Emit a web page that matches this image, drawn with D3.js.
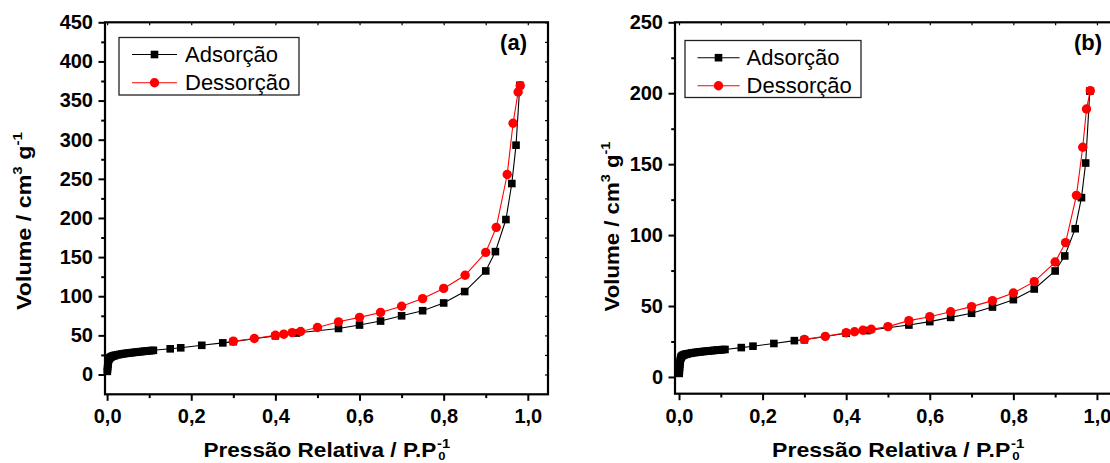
<!DOCTYPE html>
<html><head><meta charset="utf-8">
<script src="https://cdn.jsdelivr.net/npm/d3@7"></script>
<style>
body{margin:0;background:#fff;}
svg{display:block;}
text{font-family:"Liberation Sans",Arial,Helvetica,sans-serif;}
</style></head><body>
<svg id="chart" width="1110" height="463"></svg>
<script>
// ---------- DATA ----------
const seriesNames = ["Adsorção", "Dessorção"];
const panelLabels = ["(a)", "(b)"];
const xTickValues = [0, 0.2, 0.4, 0.6, 0.8, 1.0];
const xTickLabels = ["0,0", "0,2", "0,4", "0,6", "0,8", "1,0"];
const yTickValuesA = [0, 50, 100, 150, 200, 250, 300, 350, 400, 450];
const yTickValuesB = [0, 50, 100, 150, 200, 250];

// panel (a) adsorption
const adsA_x = [0.0005,0.001,0.0015,0.002,0.0025,0.003,0.004,0.005,0.006,0.008,0.01,0.0125,0.015,0.0175,0.02,0.025,0.03,0.035,0.04,0.045,0.05,0.055,0.06,0.065,0.07,0.075,0.08,0.085,0.09,0.095,0.1,0.105,0.11,
  0.15,0.175,0.225,0.275,0.30,0.40,0.45,0.55,0.60,0.65,0.70,0.75,0.80,0.85,0.90,0.923,0.948,0.962,0.972,0.981];
const adsA_y = [4,7,10,13,15.5,17.5,19.3,20.4,21.1,22.0,22.7,23.3,23.8,24.2,24.6,25.2,25.7,26.2,26.6,27.0,27.4,27.7,28.0,28.3,28.6,28.9,29.2,29.5,29.8,30.0,30.3,30.6,30.9,
  32.8,34.1,37.3,40.4,42.0,49.4,53.0,58.8,63.2,68.3,75.0,81.5,91.4,106,132.3,157,198,244,293,369.5];
// panel (a) desorption
const desA_x = [0.982,0.977,0.965,0.951,0.925,0.900,0.851,0.80,0.75,0.70,0.65,0.60,0.55,0.50,0.46,0.44,0.42,0.40,0.35,0.30];
const desA_y = [369,361,321,255.5,188,156,126.8,110,97,87.2,79.3,73,67.3,60,55,53.5,51.5,50.2,46,42.5];

// panel (b) adsorption
const adsB_x = [0.0005,0.001,0.0015,0.002,0.0025,0.003,0.004,0.005,0.006,0.008,0.01,0.0125,0.015,0.0175,0.02,0.025,0.03,0.035,0.04,0.045,0.05,0.055,0.06,0.065,0.07,0.075,0.08,0.085,0.09,0.095,0.1,0.105,0.11,
  0.149,0.177,0.227,0.276,0.30,0.40,0.45,0.55,0.60,0.65,0.70,0.75,0.80,0.85,0.90,0.923,0.948,0.963,0.973,0.983];
const adsB_y = [2.5,4.5,6.8,8.8,10.4,11.6,13.0,13.9,14.5,15.0,15.4,15.7,15.9,16.1,16.3,16.6,16.9,17.1,17.3,17.5,17.7,17.85,18.0,18.15,18.3,18.45,18.6,18.75,18.9,19.0,19.15,19.3,19.4,
  20.7,21.7,23.6,25.6,26.2,30.8,32.7,36.6,39.0,42.0,44.9,49.3,54.5,62.0,74.7,85.3,104.5,126.4,150.8,201.5];
// panel (b) desorption
const desB_x = [0.984,0.975,0.966,0.951,0.925,0.90,0.85,0.80,0.75,0.70,0.65,0.60,0.55,0.50,0.46,0.44,0.42,0.40,0.35,0.30];
const desB_y = [201.8,188.9,161.9,128,94.7,81,67.2,59.2,53.8,49.6,46,42.5,39.7,35.5,33.6,32.9,31.9,31.2,28.6,26.5];

// ---------- LAYOUT ----------
const panels = [
  { label: panelLabels[0], ads: [adsA_x, adsA_y], des: [desA_x, desA_y], yTicks: yTickValuesA,
    left: 105, top: 22.3, width: 443, height: 372,
    xDomain: [-0.005, 1.048], yDomain: [-25.3, 450], yMinorStep: 25,
    legend: { x: 119, y: 37.5, w: 180, h: 57.5, lx0: 132, lx1: 177, mx: 154.5, r1: 54.5, r2: 82.7, tx: 185 },
    labelPos: [527, 49.5],
    xTitle: { x0: 203.5, x1: 436.5, y: 457 },
    yTitle: { x: 31, y0: 310, y1: 132 } },
  { label: panelLabels[1], ads: [adsB_x, adsB_y], des: [desB_x, desB_y], yTicks: yTickValuesB,
    left: 675, top: 22.3, width: 442, height: 371.4,
    xDomain: [-0.0096, 1.048], yDomain: [-11.8, 250], yMinorStep: 25,
    legend: { x: 685, y: 40.5, w: 176, h: 57, lx0: 697.5, lx1: 739.6, mx: 718.5, r1: 57.7, r2: 85.7, tx: 746.6 },
    labelPos: [1102, 49.5],
    xTitle: { x0: 772, x1: 1010.5, y: 457 },
    yTitle: { x: 619, y0: 311.5, y1: 141.5 } }
];

const svg = d3.select("#chart");
const SQ = 7.6, CR = 4.7;

panels.forEach(p => {
  const x = d3.scaleLinear().domain(p.xDomain).range([p.left, p.left + p.width]);
  const y = d3.scaleLinear().domain(p.yDomain).range([p.top + p.height, p.top]);
  const g = svg.append("g");
  const bottom = p.top + p.height, right = p.left + p.width;

  const xMinor = d3.range(0.1, 1.05, 0.2);
  const yMinor = d3.range(p.yMinorStep, p.yDomain[1], 50);

  // bottom axis, major
  const ax = g.append("g").attr("transform", `translate(0,${bottom})`)
    .call(d3.axisBottom(x).tickValues(xTickValues).tickFormat((d, i) => xTickLabels[i])
      .tickSize(6.5).tickPadding(8.2));
  ax.select(".domain").remove();
  ax.selectAll("line").attr("stroke", "#000").attr("stroke-width", 2);
  ax.selectAll("text").attr("font-size", 20).attr("font-weight", "bold").attr("fill", "#000");
  // bottom minor
  const axm = g.append("g").attr("transform", `translate(0,${bottom})`)
    .call(d3.axisBottom(x).tickValues(xMinor).tickFormat("").tickSize(3.8));
  axm.select(".domain").remove();
  axm.selectAll("line").attr("stroke", "#000").attr("stroke-width", 2);
  // top inward ticks
  const at = g.append("g").attr("transform", `translate(0,${p.top})`)
    .call(d3.axisTop(x).tickValues(xTickValues.concat(xMinor)).tickFormat("").tickSize(-3));
  at.select(".domain").remove();
  at.selectAll("line").attr("stroke", "#000").attr("stroke-width", 1.2);

  // left axis major
  const ay = g.append("g").attr("transform", `translate(${p.left},0)`)
    .call(d3.axisLeft(y).tickValues(p.yTicks).tickFormat(d => d).tickSize(6.5).tickPadding(5.5));
  ay.select(".domain").remove();
  ay.selectAll("line").attr("stroke", "#000").attr("stroke-width", 2);
  ay.selectAll("text").attr("font-size", 20).attr("font-weight", "bold").attr("fill", "#000");
  const aym = g.append("g").attr("transform", `translate(${p.left},0)`)
    .call(d3.axisLeft(y).tickValues(yMinor).tickFormat("").tickSize(3.8));
  aym.select(".domain").remove();
  aym.selectAll("line").attr("stroke", "#000").attr("stroke-width", 2);
  // right inward ticks
  const ar = g.append("g").attr("transform", `translate(${right},0)`)
    .call(d3.axisRight(y).tickValues(p.yTicks.concat(yMinor)).tickFormat("").tickSize(-3));
  ar.select(".domain").remove();
  ar.selectAll("line").attr("stroke", "#000").attr("stroke-width", 1.2);

  // frame
  g.append("rect").attr("x", p.left).attr("y", p.top).attr("width", p.width).attr("height", p.height)
    .attr("fill", "none").attr("stroke", "#000").attr("stroke-width", 2.2);

  // series
  const adsPts = p.ads[0].map((v, i) => [v, p.ads[1][i]]);
  const desPts = p.des[0].map((v, i) => [v, p.des[1][i]]);
  const line = d3.line().x(d => x(d[0])).y(d => y(d[1]));
  g.append("path").attr("d", line(adsPts)).attr("fill", "none").attr("stroke", "#000").attr("stroke-width", 1.1);
  g.selectAll(null).data(adsPts).enter().append("rect")
    .attr("x", d => x(d[0]) - SQ / 2).attr("y", d => y(d[1]) - SQ / 2)
    .attr("width", SQ).attr("height", SQ).attr("fill", "#000");
  g.append("path").attr("d", line(desPts)).attr("fill", "none").attr("stroke", "#ff0000").attr("stroke-width", 1.1);
  g.selectAll(null).data(desPts).enter().append("circle")
    .attr("cx", d => x(d[0])).attr("cy", d => y(d[1])).attr("r", CR).attr("fill", "#ff0000");

  // legend
  const L = p.legend;
  g.append("rect").attr("x", L.x).attr("y", L.y).attr("width", L.w).attr("height", L.h)
    .attr("fill", "#fff").attr("stroke", "#222").attr("stroke-width", 1.3);
  g.append("line").attr("x1", L.lx0).attr("x2", L.lx1).attr("y1", L.r1).attr("y2", L.r1)
    .attr("stroke", "#000").attr("stroke-width", 1.1);
  g.append("rect").attr("x", L.mx - SQ / 2).attr("y", L.r1 - SQ / 2).attr("width", SQ).attr("height", SQ).attr("fill", "#000");
  g.append("line").attr("x1", L.lx0).attr("x2", L.lx1).attr("y1", L.r2).attr("y2", L.r2)
    .attr("stroke", "#ff0000").attr("stroke-width", 1.1);
  g.append("circle").attr("cx", L.mx).attr("cy", L.r2).attr("r", CR).attr("fill", "#ff0000");
  g.append("text").attr("x", L.tx).attr("y", L.r1 + 7.6).attr("font-size", 22).attr("fill", "#000").text(seriesNames[0]);
  g.append("text").attr("x", L.tx).attr("y", L.r2 + 7.6).attr("font-size", 22).attr("fill", "#000").text(seriesNames[1]);

  // panel label
  g.append("text").attr("x", p.labelPos[0]).attr("y", p.labelPos[1]).attr("text-anchor", "end")
    .attr("font-size", 22).attr("font-weight", "bold").attr("fill", "#000").text(p.label);

  // x title
  const xt = g.append("g");
  const xtMain = xt.append("text").attr("x", 0).attr("y", 0).attr("font-size", 20).attr("font-weight", "bold")
    .attr("fill", "#000").text("Pressão Relativa / P.P");
  const xl = xtMain.node().getComputedTextLength();
  xt.append("text").attr("x", xl + 0.5).attr("y", -9).attr("font-size", 13).attr("font-weight", "bold").text("-1");
  xt.append("text").attr("x", xl + 1.5).attr("y", 3).attr("font-size", 11.5).attr("font-weight", "bold").text("0");
  const sx = (p.xTitle.x1 - p.xTitle.x0) / xl;
  xt.attr("transform", `translate(${p.xTitle.x0},${p.xTitle.y}) scale(${sx},1)`);

  // y title
  const yt = g.append("g");
  const ytt = yt.append("text").attr("x", 0).attr("y", 0).attr("font-size", 20).attr("font-weight", "bold").attr("fill", "#000");
  ytt.append("tspan").text("Volume / cm");
  ytt.append("tspan").attr("font-size", 13).attr("dy", -9).text("3");
  ytt.append("tspan").attr("font-size", 20).attr("dy", 9).text("\u00a0g");
  ytt.append("tspan").attr("font-size", 13).attr("dy", -9).text("-1");
  const yl = ytt.node().getComputedTextLength();
  const sy = (p.yTitle.y0 - p.yTitle.y1) / yl;
  yt.attr("transform", `translate(${p.yTitle.x},${p.yTitle.y0}) rotate(-90) scale(${sy},1)`);
});
</script>
</body></html>
